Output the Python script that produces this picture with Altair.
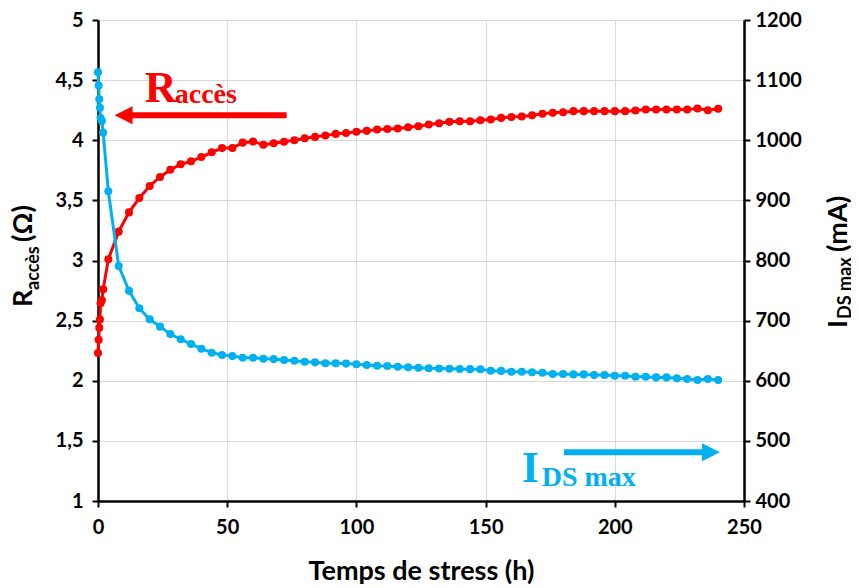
import altair as alt
import pandas as pd

# ---------------- data ----------------
time_h = [0, 0.25, 0.5, 0.75, 1, 1.5, 2,
          4, 8, 12, 16, 20, 24, 28, 32, 36, 40, 44, 48, 52, 56, 60,
          64, 68, 72, 76, 80, 84, 88, 92, 96, 100, 104, 108, 112, 116, 120,
          124, 128, 132, 136, 140, 144, 148, 152, 156, 160, 164, 168, 172, 176, 180,
          184, 188, 192, 196, 200, 204, 208, 212, 216, 220, 224, 228, 232, 236, 240]

r_acces = [2.23, 2.34, 2.44, 2.51, 2.645, 2.67, 2.76,
           3.01, 3.24, 3.40, 3.52, 3.62, 3.695, 3.755, 3.80, 3.825, 3.86, 3.90, 3.935, 3.935, 3.98, 3.99,
           3.962, 3.975, 3.987, 4.00, 4.017, 4.028, 4.039, 4.053, 4.061, 4.07, 4.078, 4.089, 4.094, 4.097, 4.108,
           4.117, 4.131, 4.142, 4.153, 4.158, 4.158, 4.167, 4.172, 4.186, 4.194, 4.198, 4.208, 4.22, 4.228, 4.233,
           4.242, 4.242, 4.242, 4.242, 4.242, 4.242, 4.247, 4.256, 4.256, 4.256, 4.256, 4.256, 4.264, 4.25, 4.262]

ids_max = [1113, 1091, 1068, 1054, 1037, 1032, 1013,
           915, 791, 749.5, 720.7, 702.3, 690, 677.8, 669, 661, 653.3, 646.7, 642.8, 641, 638.3, 638.3,
           636.5, 636, 634.5, 633.3, 631.7, 630.6, 629, 629, 628.5, 627.3, 626.2, 625, 624.5, 623.3, 622.3,
           621.7, 620.7, 620.5, 620, 619.5, 619.3, 619, 616.7, 616.4, 615, 615, 614, 613.3, 611.2, 611.2,
           610.6, 610.6, 609.5, 609.5, 608.3, 608.3, 606.7, 606.7, 605.6, 605.6, 604, 602.8, 601.2, 602.8, 601.2]

x_ticks = [0, 50, 100, 150, 200, 250]
left_ticks = [1, 1.5, 2, 2.5, 3, 3.5, 4, 4.5, 5]
right_ticks = [400, 500, 600, 700, 800, 900, 1000, 1100, 1200]

RED = "#FF0000"
BLUE = "#00B0F0"
FONT = "Lato"
SERIF = "Liberation Serif"

df = pd.DataFrame({"t": time_h, "R": r_acces, "I": ids_max})
one = pd.DataFrame({"k": [0]})

x_enc = alt.X(
    "t:Q",
    scale=alt.Scale(domain=[0, 250], nice=False),
    axis=alt.Axis(values=x_ticks, title="Temps de stress (h)", grid=True,
                  labelPadding=10, titlePadding=21, titleFontSize=27),
)

# ---------------- red series (left axis) ----------------
red_base = alt.Chart(df).encode(
    x=x_enc,
    y=alt.Y("R:Q",
            scale=alt.Scale(domain=[1, 5], nice=False, zero=False),
            axis=alt.Axis(values=left_ticks, title=None, orient="left", grid=True,
                          labelPadding=9,
                          labelExpr="replace(toString(datum.value), '.', ',')")),
)
red_line = red_base.mark_line(color=RED, strokeWidth=3)
red_pts = red_base.mark_circle(color=RED, size=65, opacity=1)

ann = alt.Chart(one)
red_shaft = ann.mark_rule(color=RED, strokeWidth=6).encode(
    x=alt.datum(73.0), x2=alt.datum(9.9), y=alt.datum(4.208))
red_head = ann.mark_point(shape="M1,-1L-1,0L1,1Z", filled=True, size=324,
                          color=RED, opacity=1, strokeWidth=0).encode(
    x=alt.datum(9.9), y=alt.datum(4.208))
red_R = ann.mark_text(text="R", font=SERIF, fontWeight="bold", fontSize=44,
                      color=RED, align="left", baseline="alphabetic").encode(
    x=alt.datum(18.1), y=alt.datum(4.322))
red_sub = ann.mark_text(text="accès", font=SERIF, fontWeight="bold", fontSize=28,
                        color=RED, align="left", baseline="alphabetic").encode(
    x=alt.datum(29.7), y=alt.datum(4.31))

# custom rotated axis titles (with subscripts)
TS = 27
SS = 18
lt_R = ann.mark_text(text="R", font=FONT, fontWeight="bold", fontSize=TS, angle=270,
                     align="left", baseline="alphabetic", color="black").encode(
    x=alt.value(-66), y=alt.value(287))
lt_sub = ann.mark_text(text="accès", font=FONT, fontWeight="bold", fontSize=SS, angle=270,
                       align="left", baseline="alphabetic", color="black").encode(
    x=alt.value(-59), y=alt.value(270))
lt_unit = ann.mark_text(text="(Ω)", font=FONT, fontWeight="bold", fontSize=TS, angle=270,
                        align="left", baseline="alphabetic", color="black").encode(
    x=alt.value(-66), y=alt.value(222))

rt_I = ann.mark_text(text="I", font=FONT, fontWeight="bold", fontSize=TS, angle=270,
                     align="left", baseline="alphabetic", color="black").encode(
    x=alt.value(749), y=alt.value(308))
rt_sub = ann.mark_text(text="DS max", font=FONT, fontWeight="bold", fontSize=SS, angle=270,
                       align="left", baseline="alphabetic", color="black").encode(
    x=alt.value(753), y=alt.value(299))
rt_unit = ann.mark_text(text="(mA)", font=FONT, fontWeight="bold", fontSize=TS, angle=270,
                        align="left", baseline="alphabetic", color="black").encode(
    x=alt.value(749), y=alt.value(232))

red_group = alt.layer(red_line, red_pts, red_shaft, red_head, red_R, red_sub,
                      lt_R, lt_sub, lt_unit, rt_I, rt_sub, rt_unit)

# ---------------- blue series (right axis) ----------------
blue_base = alt.Chart(df).encode(
    x=x_enc,
    y=alt.Y("I:Q",
            scale=alt.Scale(domain=[400, 1200], nice=False, zero=False),
            axis=alt.Axis(values=right_ticks, title=None, orient="right", grid=False,
                          labelPadding=5, format="d")),
)
blue_line = blue_base.mark_line(color=BLUE, strokeWidth=3)
blue_pts = blue_base.mark_circle(color=BLUE, size=65, opacity=1)

blue_shaft = ann.mark_rule(color=BLUE, strokeWidth=6).encode(
    x=alt.datum(180.3), x2=alt.datum(237.2), y=alt.datum(481))
blue_head = ann.mark_point(shape="M-1,-1L1,0L-1,1Z", filled=True, size=324,
                           color=BLUE, opacity=1, strokeWidth=0).encode(
    x=alt.datum(237.2), y=alt.datum(481))
blue_I = ann.mark_text(text="I", font=SERIF, fontWeight="bold", fontSize=44,
                       color=BLUE, align="left", baseline="alphabetic").encode(
    x=alt.datum(164.0), y=alt.datum(431.2))
blue_sub = ann.mark_text(text="DS max", font=SERIF, fontWeight="bold", fontSize=28,
                         color=BLUE, align="left", baseline="alphabetic").encode(
    x=alt.datum(171.7), y=alt.datum(425.3))

blue_group = alt.layer(blue_line, blue_pts, blue_shaft, blue_head, blue_I, blue_sub)

chart = (
    alt.layer(red_group, blue_group)
    .resolve_scale(y="independent")
    .properties(width=646, height=481,
                autosize=alt.AutoSizeParams(type="none"),
                padding={"left": 90, "top": 12, "right": 107, "bottom": 87})
    .configure_view(stroke=None)
    .configure_axis(
        labelFont=FONT, labelFontWeight="bold", labelFontSize=20, labelColor="black",
        labelFlush=False,
        titleFont=FONT, titleFontWeight="bold", titleColor="black",
        domainColor="black", domainWidth=2.5,
        tickColor="black", tickWidth=2, tickSize=6,
        gridColor="#d9d9d9", gridWidth=1,
    )
)

chart.save("out.html", embed_options={"renderer": "svg", "actions": False})
